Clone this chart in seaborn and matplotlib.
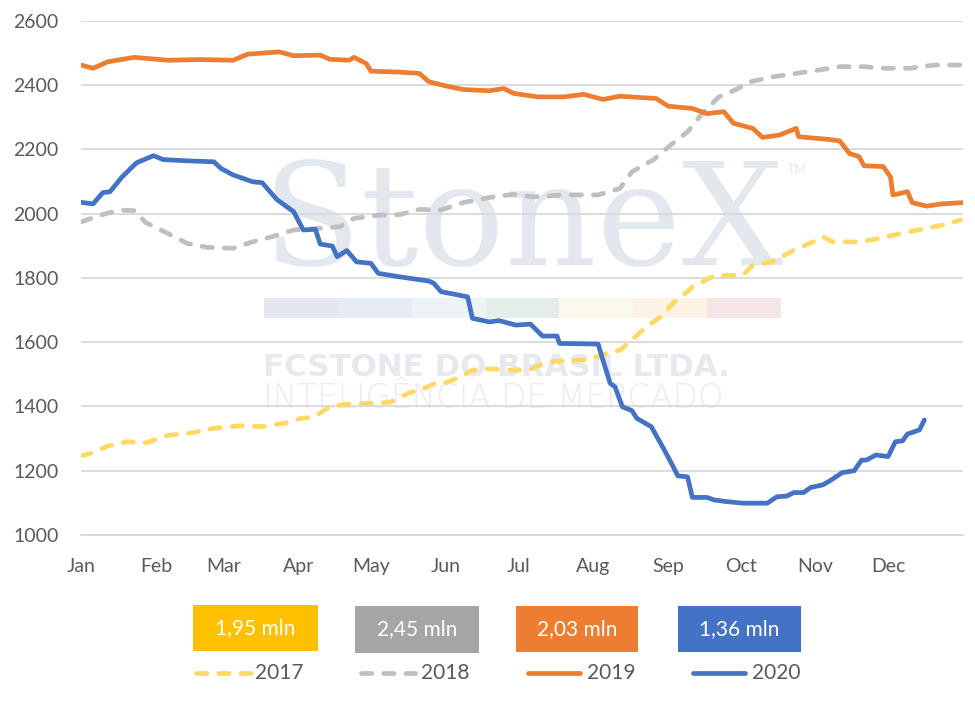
import pandas as pd
import matplotlib.pyplot as plt
import seaborn as sns
from matplotlib.patches import Rectangle
from matplotlib.lines import Line2D

# day of year (0 = 1 Jan) and values
days_2017 = [0, 5, 11, 19, 27, 36, 46, 55, 66, 75, 85, 91, 96, 103, 110, 121, 128, 136, 140, 146,
             151, 157, 162, 168, 179, 186, 193, 207, 212, 218, 223, 228, 234, 240, 245, 248, 251,
             253, 256, 262, 274, 278, 286, 295, 303, 307, 311, 322, 331, 339, 350, 358, 364]
vals_2017 = [1246, 1256, 1277, 1290, 1287, 1310, 1318, 1332, 1340, 1337, 1349, 1363, 1366, 1399,
             1407, 1410, 1413, 1443, 1449, 1470, 1474, 1492, 1513, 1517, 1513, 1515, 1539, 1544,
             1550, 1567, 1575, 1607, 1648, 1679, 1721, 1741, 1757, 1772, 1783, 1806, 1809, 1840,
             1850, 1886, 1912, 1928, 1912, 1912, 1923, 1938, 1954, 1967, 1980]

days_2018 = [0, 8, 16, 22, 27, 36, 44, 52, 63, 71, 79, 88, 99, 107, 113, 123, 132, 140, 149, 158,
             169, 179, 187, 200, 214, 223, 228, 237, 244, 251, 257, 264, 270, 277, 286, 296, 305,
             314, 324, 332, 343, 353, 365]
vals_2018 = [1974, 1995, 2011, 2009, 1971, 1938, 1907, 1895, 1892, 1912, 1928, 1949, 1954, 1959,
             1985, 1995, 1997, 2013, 2011, 2034, 2050, 2060, 2052, 2058, 2058, 2078, 2130, 2168,
             2213, 2254, 2311, 2363, 2382, 2410, 2425, 2436, 2446, 2457, 2457, 2452, 2452, 2462,
             2462]

days_2019 = [0, 5, 11, 22, 36, 49, 63, 69, 82, 88, 99, 103, 111, 113, 118, 120, 132, 140, 144,
             151, 158, 169, 175, 179, 189, 200, 208, 216, 223, 238, 243, 253, 259, 266, 270, 278,
             282, 289, 296, 297, 309, 314, 318, 322, 324, 332, 335, 336, 342, 344, 350, 356, 365]
vals_2019 = [2462, 2452, 2472, 2486, 2477, 2479, 2477, 2496, 2503, 2491, 2493, 2480, 2477, 2486,
             2467, 2443, 2440, 2436, 2410, 2397, 2386, 2382, 2389, 2374, 2363, 2363, 2371, 2355,
             2365, 2358, 2334, 2327, 2311, 2317, 2281, 2265, 2237, 2244, 2265, 2239, 2231, 2226,
             2187, 2177, 2149, 2146, 2114, 2058, 2068, 2034, 2023, 2030, 2034]

days_2020 = [0, 5, 9, 12, 17, 23, 30, 34, 44, 55, 58, 63, 71, 75, 81, 88, 92, 97, 99, 104, 106,
             110, 114, 120, 123, 132, 144, 146, 149, 160, 162, 169, 173, 180, 186, 191, 197, 198,
             214, 216, 219, 221, 224, 228, 230, 236, 241, 244, 247, 251, 253, 259, 262, 267, 274,
             284, 288, 292, 295, 299, 302, 307, 310, 315, 320, 323, 325, 329, 334, 337, 340, 342,
             347, 349]
vals_2020 = [2035, 2030, 2065, 2068, 2114, 2158, 2180, 2168, 2164, 2161, 2140, 2120, 2099, 2096,
             2044, 2006, 1949, 1951, 1905, 1899, 1866, 1885, 1850, 1845, 1814, 1803, 1790, 1783,
             1757, 1741, 1674, 1663, 1667, 1653, 1656, 1619, 1619, 1596, 1594, 1544, 1472, 1461,
             1399, 1387, 1363, 1337, 1270, 1228, 1184, 1181, 1117, 1117, 1109, 1104, 1099, 1099,
             1119, 1121, 1132, 1132, 1148, 1156, 1169, 1194, 1200, 1233, 1233, 1249, 1244, 1290,
             1293, 1314, 1327, 1358]

years = ['2017', '2018', '2019', '2020']
totals = ['1,95 mln', '2,45 mln', '2,03 mln', '1,36 mln']
month_labels = ['Jan', 'Feb', 'Mar', 'Apr', 'May', 'Jun', 'Jul', 'Aug', 'Sep', 'Oct', 'Nov', 'Dec']

line_colors = {'2017': '#FFD966', '2018': '#BFBFBF', '2019': '#ED7D31', '2020': '#4472C4'}
box_colors = ['#FFC000', '#A5A5A5', '#ED7D31', '#4472C4']
dash_map = {'2017': (2.2, 2.5), '2018': (2.2, 2.5), '2019': '', '2020': ''}

frames = []
for y, d, v in zip(years, [days_2017, days_2018, days_2019, days_2020],
                   [vals_2017, vals_2018, vals_2019, vals_2020]):
    frames.append(pd.DataFrame({'day': d, 'value': v, 'year': y}))
df = pd.concat(frames, ignore_index=True)

sns.set_style('white')
plt.rcParams['font.family'] = ['Lato', 'DejaVu Sans']
plt.rcParams['lines.solid_capstyle'] = 'round'
plt.rcParams['lines.dash_capstyle'] = 'round'
plt.rcParams['lines.solid_joinstyle'] = 'round'

W, H = 975, 709
LW = 3.4
fig = plt.figure(figsize=(W / 100, H / 100), dpi=100)
ax = fig.add_axes([81 / W, 1 - 535 / H, 882 / W, 514.3 / H])

def fx(px):
    return px / W

def fy(py):
    return 1 - py / H

# watermark
wm = '#E3E7EE'
ax.text(fx(263), fy(265), 'StoneX', transform=fig.transFigure, fontsize=103,
        family='DejaVu Serif', color=wm, ha='left', va='baseline', zorder=0.1)
ax.text(fx(788), fy(170), 'TM', transform=fig.transFigure, fontsize=9,
        color='#E6E8EC', ha='left', va='center', zorder=0.1)
strip = ['#E4E8EE', '#E7EBF3', '#EEF3F8', '#E4EDE9', '#FAF9EB', '#FCF2E6', '#F6E5E6']
for i, c in enumerate(strip):
    x0 = 264 + i * (517 / 7)
    ax.add_patch(Rectangle((fx(x0), fy(318)), (517 / 7) / W, 20 / H, transform=fig.transFigure,
                           facecolor=c, edgecolor='none', zorder=0.1, clip_on=False))
ax.text(fx(263), fy(367), 'FCSTONE DO BRASIL LTDA.', transform=fig.transFigure, fontsize=22.2,
        family='DejaVu Sans', weight='bold', color='#E6E9EE', ha='left', va='center', zorder=0.1)
ax.text(fx(263), fy(399), 'INTELIGÊNCIA DE MERCADO', transform=fig.transFigure, fontsize=23.5,
        family='DejaVu Sans', weight='light', color='#E9ECF1', ha='left', va='center', zorder=0.1)

sns.lineplot(data=df, x='day', y='value', hue='year', style='year', palette=line_colors,
             dashes=dash_map, linewidth=LW, estimator=None, legend=False, ax=ax, zorder=3)

month_starts = list(pd.date_range('2019-01-01', '2020-01-01', freq='MS').dayofyear - 1)
month_starts[-1] = 365
ax.set_xlim(0, 365)
ax.set_ylim(1000, 2600)
ax.set_yticks(range(1000, 2601, 200))
ax.set_xticks(month_starts)
ax.set_xticklabels(month_labels + [''])
ax.set_xlabel('')
ax.set_ylabel('')

ax.set_axisbelow(True)
ax.yaxis.grid(True, color='#D9D9D9', linewidth=1.3)
ax.xaxis.grid(False)
for s in ['top', 'right', 'left']:
    ax.spines[s].set_visible(False)
ax.spines['bottom'].set_color('#D9D9D9')
ax.spines['bottom'].set_linewidth(1.3)
ax.patch.set_alpha(0)
ax.tick_params(axis='y', length=0, pad=16, labelsize=14, labelcolor='#595959')
ax.tick_params(axis='x', length=5.5, width=1.3, color='#D9D9D9', pad=11, labelsize=14,
               labelcolor='#595959')

# legend boxes with totals
boxes = [(193, 318, 605, 651), (355, 479, 606, 653), (516, 638, 606, 652), (678, 801, 606, 652)]
for (x0, x1, y0, y1), c, t in zip(boxes, box_colors, totals):
    fig.patches.append(Rectangle((fx(x0), fy(y1)), (x1 - x0) / W, (y1 - y0) / H,
                                 transform=fig.transFigure, facecolor=c, edgecolor='none'))
    fig.text(fx((x0 + x1) / 2), fy((y0 + y1) / 2), t, color='white', fontsize=15,
             ha='center', va='center')

# legend lines
leg = [(196, 251, 255), (361, 415, 421), (528, 580, 587), (693, 745, 752)]
for (x0, x1, xt), y in zip(leg, years):
    ls = (0, dash_map[y]) if dash_map[y] else '-'
    fig.add_artist(Line2D([fx(x0), fx(x1)], [fy(673), fy(673)], transform=fig.transFigure,
                          color=line_colors[y], linewidth=LW, linestyle=ls))
    fig.text(fx(xt), fy(673), y, color='#595959', fontsize=15, ha='left', va='center')

fig.savefig('out.png', dpi=100)
